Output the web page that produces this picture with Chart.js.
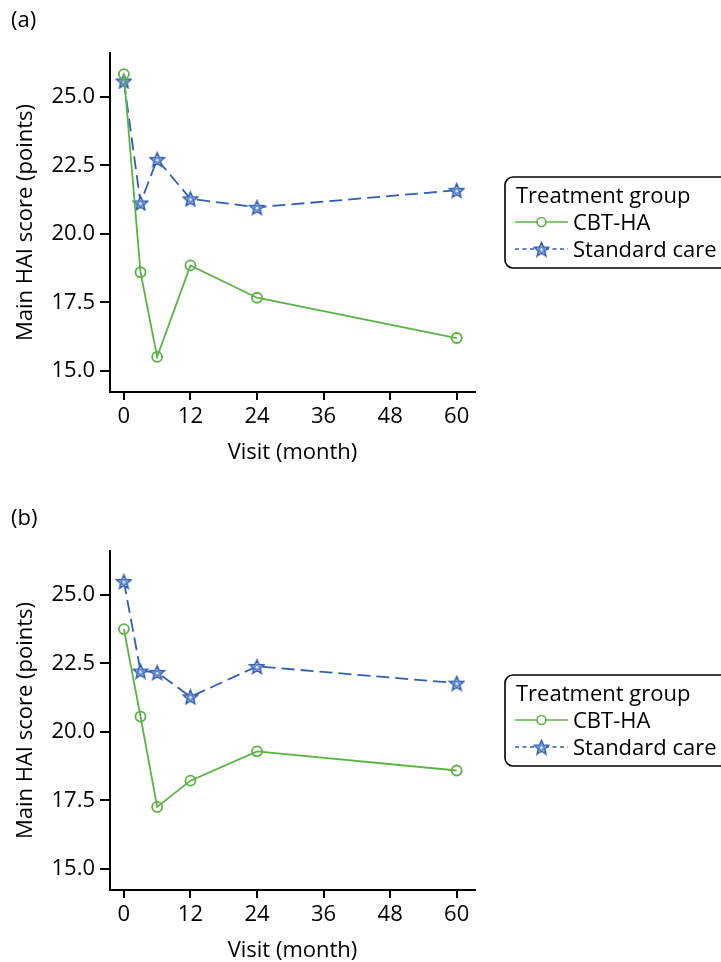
<!DOCTYPE html>
<html>
<head>
<meta charset="utf-8">
<script src="https://cdn.jsdelivr.net/npm/chart.js@4/dist/chart.umd.min.js"></script>
<style>
html,body{margin:0;padding:0;background:#fff;}
body{width:721px;height:962px;position:relative;overflow:hidden;font-family:"Open Sans",sans-serif;}
.panel{position:absolute;left:0;width:721px;overflow:hidden;}
#pa{top:0;height:498px;}
#pb{top:498px;height:464px;}
canvas{display:block;}
</style>
</head>
<body>
<div class="panel" id="pa"><canvas id="ca" width="721" height="498"></canvas></div>
<div class="panel" id="pb"><canvas id="cb" width="721" height="498"></canvas></div>
<script>
// ---- data ----
const visits = [0, 3, 6, 12, 24, 60];
const xTicks = [0, 12, 24, 36, 48, 60];
const yTicks = [15.0, 17.5, 20.0, 22.5, 25.0];
const seriesNames = ["CBT-HA", "Standard care"];
const legendTitle = "Treatment group";
const panelLabels = ["(a)", "(b)"];
const cbtA = [25.83, 18.60, 15.51, 18.85, 17.67, 16.20];
const stdA = [25.58, 21.13, 22.72, 21.28, 20.97, 21.59];
const cbtB = [23.75, 20.56, 17.26, 18.22, 19.29, 18.59];
const stdB = [25.49, 22.22, 22.17, 21.28, 22.39, 21.78];

const GREEN = "#5ab443";
const BLUE = "#2f5fb5";
const FONT = "'Open Sans', sans-serif";
const FS = 22;

function makeStar(size, color) {
  const c = document.createElement("canvas");
  c.width = size; c.height = size;
  const g = c.getContext("2d");
  const cx = size / 2, cy = size / 2 + 0.8;
  function star(R, r) {
    g.beginPath();
    for (let i = 0; i < 10; i++) {
      const rad = i % 2 === 0 ? R : r;
      const a = -Math.PI / 2 + i * Math.PI / 5;
      const px = cx + rad * Math.cos(a), py = cy + rad * Math.sin(a);
      if (i === 0) g.moveTo(px, py); else g.lineTo(px, py);
    }
    g.closePath();
  }
  g.strokeStyle = color; g.lineWidth = 1.6; g.lineJoin = "miter";
  g.fillStyle = "#fff";
  star(size / 2 - 1.2, (size / 2 - 1.2) * 0.45); g.fill(); g.stroke();
  g.lineWidth = 1.0;
  star((size / 2 - 1.2) * 0.45, (size / 2 - 1.2) * 0.2); g.stroke();
  return c;
}
const starImg = makeStar(17, BLUE);

const legendPlugin = {
  id: "boxLegend",
  afterDraw(chart) {
    const ctx = chart.ctx;
    ctx.save();
    ctx.fillStyle = "#000";
    ctx.font = FS + "px " + FONT;
    ctx.textBaseline = "alphabetic";
    ctx.textAlign = "left";
    ctx.fillText(chart.options.plugins.boxLegend.label, 11, 27);
    const x0 = 505, y0 = 177, x1 = 740, y1 = 268, r = 8;
    ctx.beginPath();
    ctx.moveTo(x0 + r, y0);
    ctx.lineTo(x1 - r, y0);
    ctx.arcTo(x1, y0, x1, y0 + r, r);
    ctx.lineTo(x1, y1 - r);
    ctx.arcTo(x1, y1, x1 - r, y1, r);
    ctx.lineTo(x0 + r, y1);
    ctx.arcTo(x0, y1, x0, y1 - r, r);
    ctx.lineTo(x0, y0 + r);
    ctx.arcTo(x0, y0, x0 + r, y0, r);
    ctx.closePath();
    ctx.lineWidth = 1.6;
    ctx.strokeStyle = "#000";
    ctx.stroke();
    ctx.fillText(legendTitle, 516, 203);
    const rows = [222, 249];
    chart.data.datasets.forEach((ds, i) => {
      const y = rows[i];
      ctx.beginPath();
      ctx.strokeStyle = ds.borderColor;
      ctx.lineWidth = 1.6;
      ctx.setLineDash(i === 0 ? [] : [4, 3.5]);
      ctx.moveTo(515, y); ctx.lineTo(568, y);
      ctx.stroke();
      ctx.setLineDash([]);
      if (i === 0) {
        ctx.beginPath();
        ctx.fillStyle = "#fff";
        ctx.arc(541.5, y, 4.5, 0, Math.PI * 2);
        ctx.fill();
        ctx.lineWidth = 1.6;
        ctx.stroke();
      } else {
        ctx.drawImage(starImg, 541.5 - 8.5, y - 8.5);
      }
      ctx.fillStyle = "#000";
      ctx.fillText(ds.label, 573, y + 8);
    });
    ctx.restore();
  }
};

function makeChart(id, cbt, std, label) {
  return new Chart(document.getElementById(id), {
    type: "line",
    data: {
      datasets: [
        {
          label: seriesNames[0],
          data: visits.map((v, i) => ({ x: v, y: cbt[i] })),
          borderColor: GREEN, backgroundColor: "#fff",
          borderWidth: 1.8, pointStyle: "circle", pointRadius: 5,
          pointBorderWidth: 1.8, pointBackgroundColor: "rgba(255,255,255,0)",
          pointBorderColor: GREEN, tension: 0
        },
        {
          label: seriesNames[1],
          data: visits.map((v, i) => ({ x: v, y: std[i] })),
          borderColor: BLUE, backgroundColor: "#fff",
          borderWidth: 1.8, borderDash: [13, 6], pointStyle: starImg,
          pointRadius: 8.5, tension: 0
        }
      ]
    },
    options: {
      responsive: false, animation: false, events: [],
      layout: { padding: { top: 53, right: 246, left: 0, bottom: 0 } },
      plugins: { legend: { display: false }, tooltip: { enabled: false }, boxLegend: { label } },
      scales: {
        x: {
          type: "linear", min: -2.5, max: 63.3,
          afterFit(s) { s.height = 106; },
          afterBuildTicks(s) { s.ticks = xTicks.map(v => ({ value: v })); },
          grid: { display: true, drawOnChartArea: false, drawTicks: true, tickLength: 8, color: "#000", lineWidth: 2 },
          border: { display: true, color: "#000", width: 2 },
          ticks: { color: "#000", font: { family: FONT, size: FS }, padding: 4, maxRotation: 0, autoSkip: false },
          title: { display: true, text: "Visit (month)", color: "#000", font: { family: FONT, size: FS }, padding: { top: 0, bottom: 32 } }
        },
        y: {
          type: "linear", min: 14.23, max: 26.6,
          afterFit(s) { s.width = 110; },
          afterBuildTicks(s) { s.ticks = yTicks.map(v => ({ value: v })); },
          grid: { display: true, drawOnChartArea: false, drawTicks: true, tickLength: 10, color: "#000", lineWidth: 2 },
          border: { display: true, color: "#000", width: 2 },
          ticks: { color: "#000", font: { family: FONT, size: FS }, padding: 5, callback: v => Number(v).toFixed(1) },
          title: { display: true, text: "Main HAI score (points)", color: "#000", font: { family: FONT, size: FS }, padding: { top: 13, bottom: 0 } }
        }
      }
    },
    plugins: [legendPlugin]
  });
}
makeChart("ca", cbtA, stdA, panelLabels[0]);
makeChart("cb", cbtB, stdB, panelLabels[1]);
</script>
</body>
</html>
